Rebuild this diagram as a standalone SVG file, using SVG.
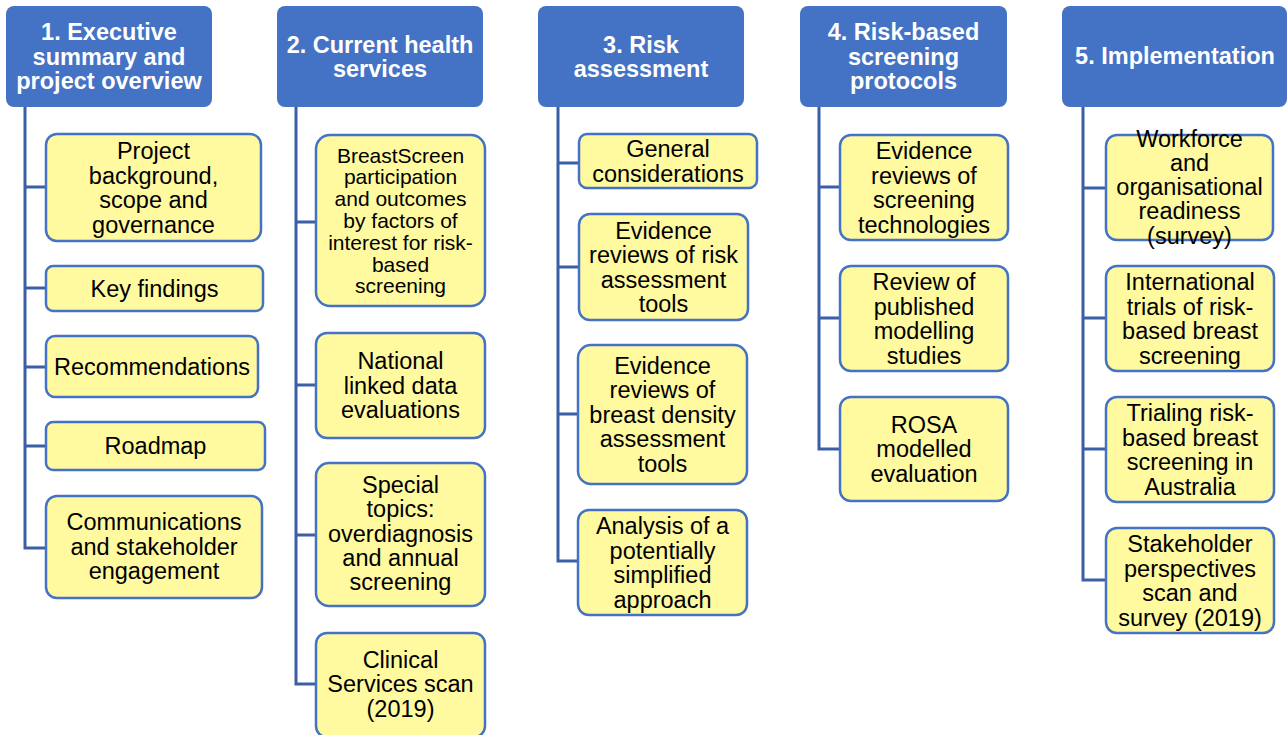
<svg xmlns="http://www.w3.org/2000/svg" width="1288" height="735" viewBox="0 0 1288 735">
  <style>
    .hdr rect { fill: #4472C4; }
    .hdr text { fill: #FFFFFF; font-family: "Liberation Sans", Arial, sans-serif; font-weight: bold; font-size: 23.5px; text-anchor: middle; }
    .item rect { fill: #FFF9A0; stroke: #4472C4; stroke-width: 2.5; }
    .item text { fill: #000000; font-family: "Liberation Sans", Arial, sans-serif; font-size: 23.5px; text-anchor: middle; }
    .item text.small { font-size: 21px; }
    .links path { fill: none; stroke: #3B5EA6; stroke-width: 3; }
  </style>

  <rect width="1288" height="735" fill="#FFFFFF"/>

  <!-- tree connectors -->
  <g id="connectors" class="links">
    <path d="M25,107 V548 H46 M25,187 H46 M25,288 H46 M25,367 H46 M25,446 H46"/>
    <path d="M296,107 V684 H316 M296,222 H316 M296,385 H316 M296,535 H316"/>
    <path d="M558,107 V561 H578 M558,163 H579 M558,267 H579 M558,414 H578"/>
    <path d="M819,107 V449 H840 M819,187 H840 M819,318 H840"/>
    <path d="M1083,107 V580 H1106 M1083,188 H1106 M1083,318 H1106 M1083,449 H1106"/>
  </g>

  <!-- section headers -->
  <g id="h1" class="hdr">
    <rect x="6" y="6" width="206" height="101" rx="8"/>
    <text x="109" y="40">1. Executive<tspan x="109" dy="24.5">summary and</tspan><tspan x="109" dy="24.5">project overview</tspan></text>
  </g>
  <g id="h2" class="hdr">
    <rect x="277" y="6" width="206" height="101" rx="8"/>
    <text x="380" y="52.5">2. Current health<tspan x="380" dy="24">services</tspan></text>
  </g>
  <g id="h3" class="hdr">
    <rect x="538" y="6" width="206" height="101" rx="8"/>
    <text x="641" y="52.5">3. Risk<tspan x="641" dy="24">assessment</tspan></text>
  </g>
  <g id="h4" class="hdr">
    <rect x="800" y="6" width="207" height="101" rx="8"/>
    <text x="903.5" y="40">4. Risk-based<tspan x="903.5" dy="24.5">screening</tspan><tspan x="903.5" dy="24.5">protocols</tspan></text>
  </g>
  <g id="h5" class="hdr">
    <rect x="1062" y="6" width="225" height="101" rx="8"/>
    <text x="1175" y="64">5. Implementation</text>
  </g>

  <!-- column 1 -->
  <g id="c1a" class="item">
    <rect x="46" y="134" width="215" height="107" rx="11"/>
    <text x="153.5" y="159">Project<tspan x="153.5" dy="24.5">background,</tspan><tspan x="153.5" dy="24.5">scope and</tspan><tspan x="153.5" dy="24.5">governance</tspan></text>
  </g>
  <g id="c1b" class="item">
    <rect x="46" y="266" width="217" height="45" rx="7"/>
    <text x="154.5" y="296.5">Key findings</text>
  </g>
  <g id="c1c" class="item">
    <rect x="46" y="336" width="212" height="61" rx="9"/>
    <text x="152" y="374.5">Recommendations</text>
  </g>
  <g id="c1d" class="item">
    <rect x="46" y="422" width="219" height="48" rx="7"/>
    <text x="155.5" y="454">Roadmap</text>
  </g>
  <g id="c1e" class="item">
    <rect x="46" y="496" width="216" height="102" rx="11"/>
    <text x="154" y="530">Communications<tspan x="154" dy="24.5">and stakeholder</tspan><tspan x="154" dy="24.5">engagement</tspan></text>
  </g>

  <!-- column 2 -->
  <g id="c2a" class="item">
    <rect x="316" y="135" width="169" height="171" rx="14"/>
    <text class="small" x="400.5" y="162.5">BreastScreen<tspan x="400.5" dy="21.8">participation</tspan><tspan x="400.5" dy="21.8">and outcomes</tspan><tspan x="400.5" dy="21.8">by factors of</tspan><tspan x="400.5" dy="21.8">interest for risk-</tspan><tspan x="400.5" dy="21.8">based</tspan><tspan x="400.5" dy="21.8">screening</tspan></text>
  </g>
  <g id="c2b" class="item">
    <rect x="316" y="333" width="169" height="105" rx="11"/>
    <text x="400.5" y="369">National<tspan x="400.5" dy="24.5">linked data</tspan><tspan x="400.5" dy="24.5">evaluations</tspan></text>
  </g>
  <g id="c2c" class="item">
    <rect x="316" y="463" width="169" height="143" rx="13"/>
    <text x="400.5" y="493">Special<tspan x="400.5" dy="24.3">topics:</tspan><tspan x="400.5" dy="24.3">overdiagnosis</tspan><tspan x="400.5" dy="24.3">and annual</tspan><tspan x="400.5" dy="24.3">screening</tspan></text>
  </g>
  <g id="c2d" class="item">
    <rect x="316" y="633" width="169" height="104" rx="11"/>
    <text x="400.5" y="667.5">Clinical<tspan x="400.5" dy="24.5">Services scan</tspan><tspan x="400.5" dy="24.5">(2019)</tspan></text>
  </g>

  <!-- column 3 -->
  <g id="c3a" class="item">
    <rect x="579" y="134" width="178" height="54" rx="8"/>
    <text x="668" y="157">General<tspan x="668" dy="24.5">considerations</tspan></text>
  </g>
  <g id="c3b" class="item">
    <rect x="579" y="214" width="169" height="106" rx="11"/>
    <text x="663.5" y="238.5">Evidence<tspan x="663.5" dy="24.5">reviews of risk</tspan><tspan x="663.5" dy="24.5">assessment</tspan><tspan x="663.5" dy="24.5">tools</tspan></text>
  </g>
  <g id="c3c" class="item">
    <rect x="578" y="345" width="169" height="139" rx="13"/>
    <text x="662.5" y="373.5">Evidence<tspan x="662.5" dy="24.5">reviews of</tspan><tspan x="662.5" dy="24.5">breast density</tspan><tspan x="662.5" dy="24.5">assessment</tspan><tspan x="662.5" dy="24.5">tools</tspan></text>
  </g>
  <g id="c3d" class="item">
    <rect x="578" y="510" width="169" height="105" rx="11"/>
    <text x="662.5" y="534">Analysis of a<tspan x="662.5" dy="24.5">potentially</tspan><tspan x="662.5" dy="24.5">simplified</tspan><tspan x="662.5" dy="24.5">approach</tspan></text>
  </g>

  <!-- column 4 -->
  <g id="c4a" class="item">
    <rect x="840" y="135" width="168" height="105" rx="11"/>
    <text x="924" y="159">Evidence<tspan x="924" dy="24.5">reviews of</tspan><tspan x="924" dy="24.5">screening</tspan><tspan x="924" dy="24.5">technologies</tspan></text>
  </g>
  <g id="c4b" class="item">
    <rect x="840" y="266" width="168" height="105" rx="11"/>
    <text x="924" y="290">Review of<tspan x="924" dy="24.5">published</tspan><tspan x="924" dy="24.5">modelling</tspan><tspan x="924" dy="24.5">studies</tspan></text>
  </g>
  <g id="c4c" class="item">
    <rect x="840" y="397" width="168" height="104" rx="11"/>
    <text x="924" y="432.5">ROSA<tspan x="924" dy="24.5">modelled</tspan><tspan x="924" dy="24.5">evaluation</tspan></text>
  </g>

  <!-- column 5 -->
  <g id="c5a" class="item">
    <rect x="1106" y="135" width="167" height="105" rx="11"/>
    <text x="1189.5" y="146.5">Workforce<tspan x="1189.5" dy="24.3">and</tspan><tspan x="1189.5" dy="24.3">organisational</tspan><tspan x="1189.5" dy="24.3">readiness</tspan><tspan x="1189.5" dy="24.3">(survey)</tspan></text>
  </g>
  <g id="c5b" class="item">
    <rect x="1106" y="266" width="168" height="105" rx="11"/>
    <text x="1190" y="290">International<tspan x="1190" dy="24.5">trials of risk-</tspan><tspan x="1190" dy="24.5">based breast</tspan><tspan x="1190" dy="24.5">screening</tspan></text>
  </g>
  <g id="c5c" class="item">
    <rect x="1106" y="397" width="168" height="105" rx="11"/>
    <text x="1190" y="421">Trialing risk-<tspan x="1190" dy="24.5">based breast</tspan><tspan x="1190" dy="24.5">screening in</tspan><tspan x="1190" dy="24.5">Australia</tspan></text>
  </g>
  <g id="c5d" class="item">
    <rect x="1106" y="528" width="168" height="105" rx="11"/>
    <text x="1190" y="552">Stakeholder<tspan x="1190" dy="24.5">perspectives</tspan><tspan x="1190" dy="24.5">scan and</tspan><tspan x="1190" dy="24.5">survey (2019)</tspan></text>
  </g>
</svg>
